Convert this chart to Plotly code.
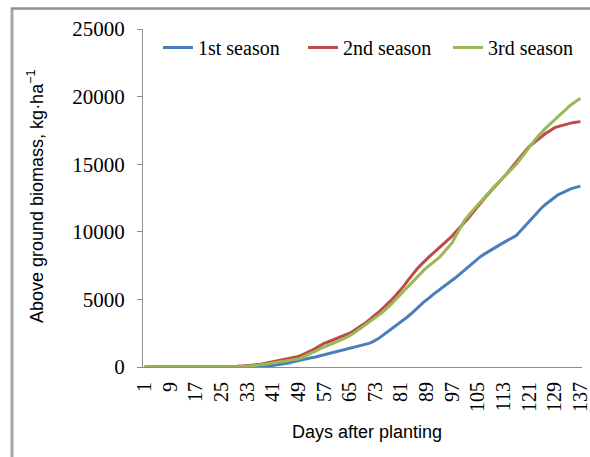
import plotly.graph_objects as go

days = list(range(1, 138))

season1 = [0] * 35 + [
    5, 15, 30, 50, 80, 110, 140, 170, 210, 250,
    300, 360, 420, 470, 520, 570, 630, 680, 720, 780,
    830, 880, 940, 1000, 1050, 1110, 1190, 1260, 1320, 1380,
    1420, 1470, 1540, 1600, 1680, 1750, 1840, 1950, 2100, 2280,
    2450, 2650, 2800, 2980, 3150, 3300, 3500, 3700, 3900, 4100,
    4330, 4550, 4780, 5000, 5150, 5350, 5520, 5700, 5880, 6050,
    6220, 6400, 6600, 6800, 7000, 7200, 7400, 7620, 7850, 8050,
    8200, 8350, 8500, 8650, 8780, 8900, 9050, 9200, 9330, 9450,
    9580, 9720, 9980, 10250, 10530, 10800, 11050, 11300, 11550, 11800,
    12000, 12200, 12400, 12600, 12730, 12850, 12980, 13100, 13180, 13250,
    13320, 13380]

season2 = [0] * 27 + [
    20, 35, 50, 65, 80, 100, 120, 150, 175, 200,
    240, 290, 330, 380, 420, 470, 510, 560, 610, 670,
    720, 780, 880, 980, 1090, 1200, 1330, 1480, 1620, 1750,
    1830, 1920, 2010, 2100, 2200, 2300, 2400, 2500, 2650, 2800,
    2950, 3100, 3280, 3470, 3650, 3850, 4050, 4270, 4480, 4700,
    4950, 5200, 5450, 5700, 6020, 6350, 6680, 7000, 7250, 7500,
    7750, 8000, 8200, 8400, 8600, 8800, 9020, 9250, 9470, 9700,
    9950, 10200, 10450, 10700, 11000, 11300, 11600, 11900, 12180, 12450,
    12730, 13000, 13250, 13500, 13750, 14000, 14300, 14600, 14900, 15200,
    15480, 15750, 16030, 16300, 16500, 16700, 16900, 17100, 17250, 17400,
    17550, 17700, 17780, 17850, 17930, 18000, 18040, 18080, 18110, 18150]

season3 = [0] * 29 + [
    10, 25, 40, 60, 80, 100, 125, 150, 185, 220,
    260, 300, 340, 375, 410, 450, 490, 530, 565, 600,
    700, 800, 900, 1000, 1120, 1250, 1380, 1500, 1590, 1680,
    1760, 1850, 1960, 2070, 2190, 2300, 2460, 2620, 2790, 2950,
    3110, 3270, 3430, 3600, 3800, 4000, 4200, 4400, 4650, 4900,
    5150, 5400, 5660, 5920, 6190, 6450, 6680, 6900, 7130, 7350,
    7530, 7720, 7900, 8100, 8380, 8650, 8930, 9200, 9650, 10080,
    10500, 10900, 11180, 11450, 11730, 12000, 12280, 12550, 12830, 13100,
    13320, 13550, 13780, 14000, 14250, 14500, 14750, 15000, 15320, 15650,
    15980, 16300, 16580, 16850, 17130, 17400, 17630, 17850, 18080, 18300,
    18520, 18750, 18980, 19200, 19380, 19550, 19720, 19870]

series_names = ["1st season", "2nd season", "3rd season"]
series_colors = ["#4A7EBB", "#BE4B48", "#98B954"]
x_ticks = list(range(1, 138, 8))
y_ticks = [0, 5000, 10000, 15000, 20000, 25000]

W, H = 590, 457
L, R, T, B = 143, 8, 29, 90
pw, ph = W - L - R, H - T - B

def px_x(p):
    return (p - L) / pw

def px_y(p):
    return (H - B - p) / ph

fig = go.Figure()
for name, vals, col in zip(series_names, [season1, season2, season3], series_colors):
    fig.add_trace(go.Scatter(x=days, y=vals, name=name, mode="lines",
                             line=dict(color=col, width=3)))

serif = "Liberation Serif, Times New Roman, serif"
sans = "Liberation Sans, Arial, sans-serif"

fig.update_layout(
    width=W, height=H,
    margin=dict(l=L, r=R, t=T, b=B, autoexpand=False),
    paper_bgcolor="white", plot_bgcolor="white",
    showlegend=True,
    legend=dict(orientation="h", x=px_x(158), y=px_y(28), xanchor="left", yanchor="top",
                font=dict(family=serif, size=20, color="black"),
                bgcolor="rgba(0,0,0,0)", itemwidth=30, tracegroupgap=0,
                entrywidth=100, entrywidthmode="pixels"),
    xaxis=dict(range=[0.5, 137.5], tickmode="array", tickvals=x_ticks,
               ticktext=[str(v) for v in x_ticks], tickangle=-90, automargin=False,
               showgrid=False, zeroline=False, showline=True, linecolor="#8c8c8c",
               linewidth=1, ticks="", ticklabelstandoff=6, ticklabeloverflow="allow",
               tickfont=dict(family=serif, size=20, color="black")),
    yaxis=dict(range=[0, 25000], tickmode="array", tickvals=y_ticks,
               ticktext=[str(v) for v in y_ticks], automargin=False,
               showgrid=False, zeroline=False, showline=True, linecolor="#8c8c8c",
               linewidth=1, ticks="outside", ticklen=5, tickcolor="#8c8c8c",
               ticklabelstandoff=8,
               tickfont=dict(family=serif, size=21, color="black")),
    annotations=[
        dict(text="Days after planting", xref="paper", yref="paper",
             x=px_x(367), y=px_y(432), xanchor="center", yanchor="middle",
             showarrow=False, font=dict(family=sans, size=18, color="black")),
        dict(text="Above ground biomass, kg·ha<sup>−1</sup>", xref="paper", yref="paper",
             x=px_x(35), y=px_y(196), xanchor="center", yanchor="middle",
             textangle=-90, showarrow=False,
             font=dict(family=sans, size=18, color="black")),
    ],
    shapes=[
        dict(type="line", xref="paper", yref="paper", x0=px_x(12), x1=px_x(12),
             y0=px_y(8), y1=px_y(H + 5), line=dict(color="#a6a6a6", width=3)),
        dict(type="line", xref="paper", yref="paper", x0=px_x(11), x1=px_x(W + 5),
             y0=px_y(8.5), y1=px_y(8.5), line=dict(color="#8f8f8f", width=2.5)),
    ],
)

fig.write_html("out.html")
